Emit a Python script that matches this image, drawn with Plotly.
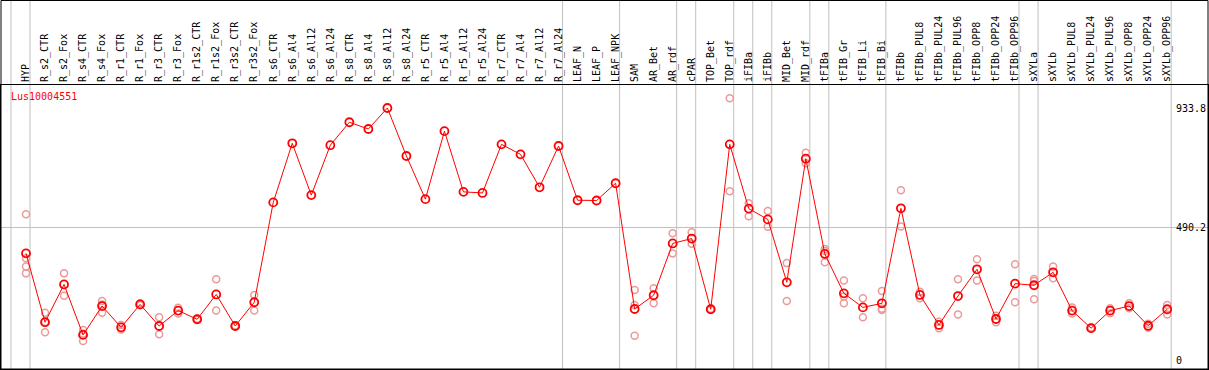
import plotly.graph_objects as go

categories = ["HYP", "R_s2_CTR", "R_s2_Fox", "R_s4_CTR", "R_s4_Fox", "R_r1_CTR", "R_r1_Fox",
              "R_r3_CTR", "R_r3_Fox", "R_r1s2_CTR", "R_r1s2_Fox", "R_r3s2_CTR", "R_r3s2_Fox",
              "R_s6_CTR", "R_s6_Al4", "R_s6_Al12", "R_s6_Al24", "R_s8_CTR", "R_s8_Al4", "R_s8_Al12",
              "R_s8_Al24", "R_r5_CTR", "R_r5_Al4", "R_r5_Al12", "R_r5_Al24", "R_r7_CTR", "R_r7_Al4",
              "R_r7_Al12", "R_r7_Al24", "LEAF_N", "LEAF_P", "LEAF_NPK", "SAM", "AR_Bet", "AR_rdf",
              "cPAR", "TOP_Bet", "TOP_rdf", "iFIBa", "iFIBb", "MID_Bet", "MID_rdf", "tFIBa",
              "tFIB_Gr", "tFIB_Li", "tFIB_Bi", "tFIBb", "tFIBb_PUL8", "tFIBb_PUL24", "tFIBb_PUL96",
              "tFIBb_OPP8", "tFIBb_OPP24", "tFIBb_OPP96", "sXYLa", "sXYLb", "sXYLb_PUL8",
              "sXYLb_PUL24", "sXYLb_PUL96", "sXYLb_OPP8", "sXYLb_OPP24", "sXYLb_OPP96"]

means = [395, 140, 280, 93, 200, 121, 206, 126, 183, 151, 243, 126, 214,
         584, 803, 611, 796, 881, 856, 933.8, 756, 596, 848, 623, 619, 799, 762, 640, 793,
         592, 591, 655, 189, 240, 432, 450, 188, 799, 561, 521, 288, 746, 393,
         247, 195, 210, 562, 241, 130, 237, 336, 152, 283, 277, 325, 183, 118, 183, 200, 127, 188]

replicates = [[540, 377, 346, 321], [175, 141, 103], [321, 238], [111, 70, 97], [219, 175, 206],
              [130, 113], [210, 203], [158, 95], [194, 172], [153, 149], [299, 183], [128, 124],
              [241, 183],
              [], [], [], [], [], [], [], [], [], [], [], [], [], [], [], [], [], [], [],
              [259, 204, 90], [266, 210], [470, 395], [473, 431], [190, 186], [970, 625],
              [581, 533], [552, 494], [359, 219], [768, 729], [411, 404, 362], [295, 235, 210],
              [229, 158], [256, 190, 185], [629, 495], [253, 229], [142, 118], [299, 169],
              [373, 295], [164, 140], [355, 214], [300, 293, 225], [346, 303], [195, 172],
              [120, 116], [192, 173], [210, 192], [134, 120], [204, 169]]

group_ends = ["HYP", "R_r7_Al24", "LEAF_NPK", "AR_rdf", "cPAR", "TOP_rdf", "iFIBa", "iFIBb",
              "MID_rdf", "tFIBa", "tFIB_Bi", "tFIBb_OPP96", "sXYLa", "sXYLb_OPP96"]

y_ticks = [0, 490.2, 933.8]
gene_name = "Lus10004551"

W, H = 1209, 370
ML, MR, MT, MB = 1, 1, 85, 1
plot_h = H - MT - MB
plot_w = W - ML - MR
top_paper = 1 + (MT - 0.5) / plot_h

MONO = "DejaVu Sans Mono"

rep_x, rep_y = [], []
for c, vals in zip(categories, replicates):
    for v in vals:
        rep_x.append(c)
        rep_y.append(v)

fig = go.Figure()
fig.add_trace(go.Scatter(x=rep_x, y=rep_y, mode="markers",
                         marker=dict(symbol="circle-open", size=7, color="#EA9A9A",
                                     line=dict(width=1.5)),
                         showlegend=False, hoverinfo="skip"))
fig.add_trace(go.Scatter(x=categories, y=means, mode="lines+markers",
                         line=dict(color="#FF0000", width=1),
                         marker=dict(symbol="circle-open", size=8, color="#FF0000",
                                     line=dict(width=1.8)),
                         showlegend=False, name=gene_name))

# helper traces to activate the label axis and the grid axis
fig.add_trace(go.Scatter(x=[categories[0]], y=[None], yaxis="y2", showlegend=False, hoverinfo="skip"))
fig.add_trace(go.Scatter(x=[categories[0]], y=[None], yaxis="y3", showlegend=False, hoverinfo="skip"))

idx = {c: i for i, c in enumerate(categories)}
sep_positions = [-1 + 0.21] + [idx[c] + 0.21 for c in group_ends]
shapes = []
for p in sep_positions:
    shapes.append(dict(type="line", xref="x", yref="paper", x0=p, x1=p, y0=0, y1=top_paper,
                       line=dict(color="#C0C0C0", width=1), layer="below"))
shapes.append(dict(type="rect", xref="paper", yref="paper", x0=0, x1=1, y0=0, y1=top_paper,
                   line=dict(color="black", width=1), layer="above"))

step = 19.02
x0_px = 26
xr = [(ML - x0_px) / step, (W - MR - x0_px) / step]
k = 0.26987
y_zero_px = 360
y_range = [(y_zero_px - (H - MB)) / k, (y_zero_px - MT) / k]

fig.update_layout(
    width=W, height=H,
    margin=dict(l=ML, r=MR, t=MT, b=MB, pad=0, autoexpand=False),
    paper_bgcolor="white", plot_bgcolor="white",
    shapes=shapes,
    xaxis=dict(type="category", categoryorder="array", categoryarray=categories,
               range=xr, side="top", tickangle=-90, ticks="", showgrid=False, automargin=False,
               showline=True, mirror=True, linecolor="black", linewidth=1,
               tickfont=dict(family=MONO, size=10, color="black"), zeroline=False),
    yaxis=dict(range=y_range, showgrid=False, zeroline=False, showticklabels=False,
               ticks="", showline=True, mirror=True, linecolor="black", linewidth=1,
               automargin=False),
    yaxis2=dict(range=y_range, overlaying="y", anchor="free", position=(1175 - ML) / plot_w,
                side="right", tickvals=y_ticks, ticktext=[str(v) for v in y_ticks],
                showgrid=False, zeroline=False, showline=False, ticks="", automargin=False,
                tickfont=dict(family=MONO, size=10, color="black")),
    yaxis3=dict(range=y_range, overlaying="y", tickvals=[y_ticks[1]], showticklabels=False,
                showgrid=True, gridcolor="#C0C0C0", gridwidth=1, zeroline=False, ticks="",
                showline=False, automargin=False),
    annotations=[dict(text=gene_name, xref="paper", yref="paper",
                      x=(9 - ML) / plot_w, y=1 - (97 - MT) / plot_h,
                      xanchor="left", yanchor="middle", showarrow=False,
                      font=dict(family=MONO, size=10, color="#FF0000"))],
)

fig.write_html("out.html", config={"displayModeBar": False},
               post_script="document.body.style.margin='0';document.body.style.overflow='hidden';")
